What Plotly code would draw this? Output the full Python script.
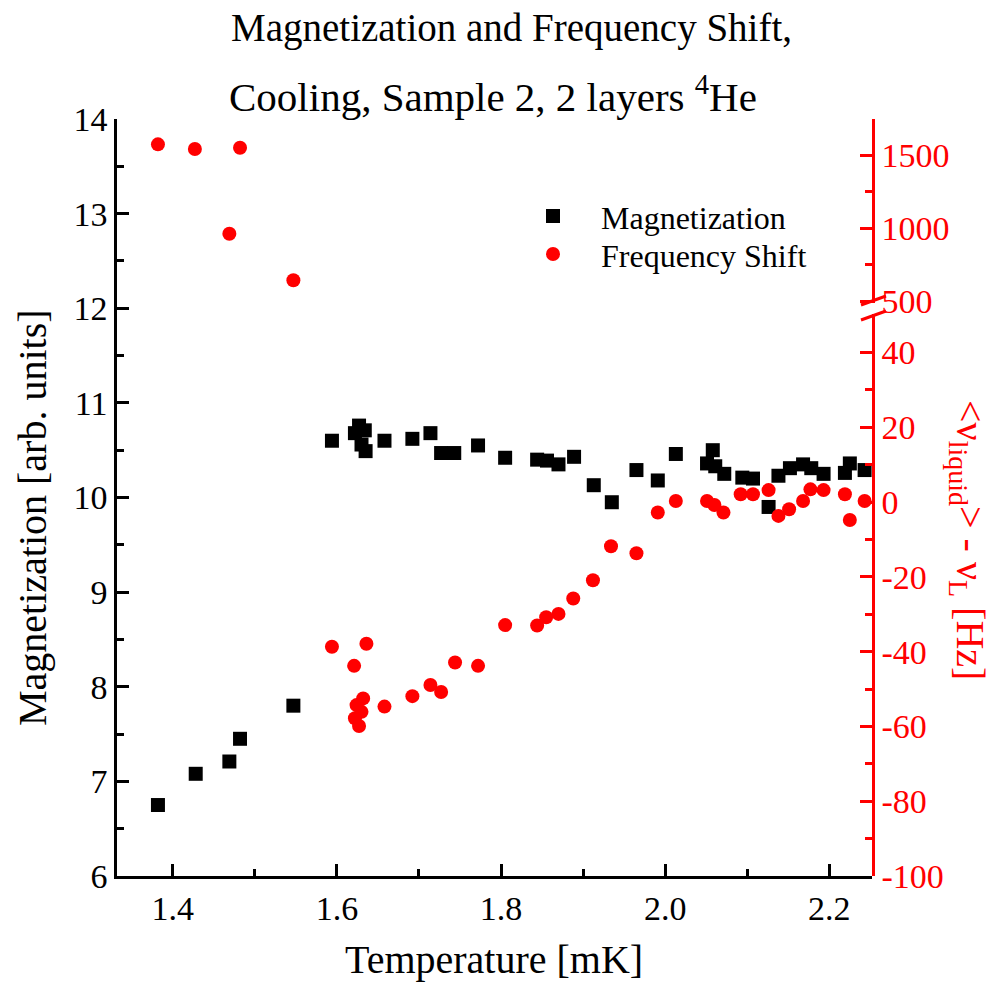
import plotly.graph_objects as go

# Magnetization (left axis)
mag_T = [1.382, 1.428, 1.469, 1.482, 1.547, 1.594, 1.622, 1.627, 1.634, 1.630,
         1.635, 1.658, 1.692, 1.714, 1.727, 1.743, 1.772, 1.805, 1.844, 1.856,
         1.870, 1.889, 1.913, 1.935, 1.965, 1.991, 2.013, 2.051, 2.058, 2.061,
         2.072, 2.094, 2.107, 2.126, 2.138, 2.152, 2.168, 2.178, 2.193, 2.219,
         2.225, 2.243]
mag_M = [6.75, 7.08, 7.21, 7.45, 7.80, 10.60, 10.68, 10.76, 10.71, 10.56,
         10.49, 10.60, 10.62, 10.68, 10.47, 10.47, 10.55, 10.42, 10.40, 10.39,
         10.35, 10.43, 10.13, 9.95, 10.29, 10.18, 10.46, 10.36, 10.50, 10.33,
         10.25, 10.21, 10.20, 9.90, 10.23, 10.31, 10.35, 10.31, 10.25, 10.26,
         10.36, 10.29]

# Frequency shift (right axis, broken scale)
freq_T = [1.382, 1.427, 1.469, 1.482, 1.547, 1.594, 1.621, 1.622, 1.624, 1.627,
          1.630, 1.632, 1.636, 1.658, 1.692, 1.714, 1.727, 1.744, 1.772, 1.805,
          1.844, 1.855, 1.870, 1.888, 1.912, 1.934, 1.965, 1.991, 2.013, 2.051,
          2.060, 2.071, 2.092, 2.107, 2.126, 2.138, 2.151, 2.168, 2.177, 2.193,
          2.219, 2.225, 2.243]
freq_F = [1573, 1541, 961, 1550, 642, -38.7, -43.8, -57.8, -54.3, -59.9,
          -56.1, -52.5, -37.9, -54.7, -51.9, -48.9, -50.8, -42.9, -43.8, -32.9,
          -33.0, -30.8, -29.9, -25.8, -20.9, -11.8, -13.7, -2.8, 0.3, 0.3,
          -0.8, -2.8, 2.1, 2.1, 3.2, -3.7, -1.9, 0.3, 3.4, 3.2,
          2.1, -4.8, 0.3]

x_ticks = [1.4, 1.6, 1.8, 2.0, 2.2]
left_ticks = [6, 7, 8, 9, 10, 11, 12, 13, 14]
low_ticks = [-100, -80, -60, -40, -20, 0, 20, 40]
high_ticks = [500, 1000, 1500]

BREAK = 400  # values above this go on the upper segment of the right axis
low_T = [t for t, f in zip(freq_T, freq_F) if f < BREAK]
low_F = [f for f in freq_F if f < BREAK]
high_T = [t for t, f in zip(freq_T, freq_F) if f >= BREAK]
high_F = [f for f in freq_F if f >= BREAK]

W, H = 999, 984
L, R, T, B = 117, 127, 119, 108
PW, PH = W - L - R, H - T - B
FONT = "Liberation Serif"
RED = "#ff0000"
TICK_SIZE = 34


def px(x):
    return (x - L) / PW


def py(y):
    return (H - B - y) / PH


low_top = py(314)
high_bot = py(303)

fig = go.Figure()
fig.add_trace(go.Scatter(x=mag_T, y=mag_M, mode="markers", name="Magnetization",
                         marker=dict(symbol="square", size=14, color="black"),
                         xaxis="x", yaxis="y"))
fig.add_trace(go.Scatter(x=low_T, y=low_F, mode="markers", name="Frequency Shift",
                         marker=dict(symbol="circle", size=14, color=RED),
                         xaxis="x", yaxis="y2"))
fig.add_trace(go.Scatter(x=high_T, y=high_F, mode="markers", name="Frequency Shift",
                         marker=dict(symbol="circle", size=14, color=RED),
                         xaxis="x", yaxis="y3"))

tick_font = dict(family=FONT, size=TICK_SIZE, color="black")
red_font = dict(family=FONT, size=TICK_SIZE, color=RED)
xr = [1.3321, 2.2520]


def signed(v):
    return f"-{abs(v)}" if v < 0 else f"{v}"


fig.update_layout(
    width=W, height=H, autosize=False,
    margin=dict(l=L, r=R, t=T, b=B),
    paper_bgcolor="white", plot_bgcolor="rgba(0,0,0,0)",
    font=dict(family=FONT, color="black"),
    showlegend=False,
    xaxis=dict(domain=[0, 1], range=xr, tickvals=x_ticks, ticktext=[f"{v:.1f}" for v in x_ticks],
               ticks="inside", ticklen=12, tickwidth=2.5, tickcolor="black",
               showline=True, linewidth=2.5, linecolor="black", showgrid=False, zeroline=False,
               tickfont=tick_font, anchor="y",
               minor=dict(dtick=0.1, tick0=1.4, ticks="inside", ticklen=7, tickwidth=2.5,
                          tickcolor="black", showgrid=False)),
    xaxis2=dict(overlaying="x", side="top", range=xr, anchor="y", tick0=1.4, dtick=0.1,
                ticks="inside", ticklen=7, tickwidth=2, tickcolor="black",
                showline=True, linewidth=2.5, linecolor="black", showgrid=False, zeroline=False,
                showticklabels=False,
                minor=dict(dtick=0.05, tick0=1.4, ticks="inside", ticklen=3, tickwidth=2,
                           tickcolor="black", showgrid=False)),
    yaxis=dict(domain=[0, 1], range=[6, 14], tickvals=left_ticks, anchor="x", side="left",
               ticks="inside", ticklen=12, tickwidth=2.5, tickcolor="black",
               showline=True, linewidth=2.5, linecolor="black", showgrid=False, zeroline=False,
               tickfont=tick_font,
               minor=dict(dtick=0.5, tick0=6, ticks="inside", ticklen=7, tickwidth=2.5,
                          tickcolor="black", showgrid=False)),
    yaxis2=dict(domain=[0, low_top], range=[-100, 50.3], tickvals=low_ticks,
                ticktext=[signed(v) for v in low_ticks], anchor="x",
                side="right", ticks="inside", ticklen=12, tickwidth=2.5, tickcolor=RED,
                showline=True, linewidth=2.5, linecolor=RED, showgrid=False, zeroline=False,
                tickfont=red_font,
                minor=dict(tickvals=[-90, -70, -50, -30, -10, 10, 30], ticks="inside",
                           ticklen=7, tickwidth=2.5, tickcolor=RED, showgrid=False)),
    yaxis3=dict(domain=[high_bot, 1], range=[486.3, 1746.6], tickvals=high_ticks, anchor="x",
                side="right", ticks="inside", ticklen=12, tickwidth=2.5, tickcolor=RED,
                showline=True, linewidth=2.5, linecolor=RED, showgrid=False, zeroline=False,
                tickfont=red_font,
                minor=dict(tickvals=[750, 1250], ticks="inside", ticklen=7, tickwidth=2.5,
                           tickcolor=RED, showgrid=False)),
)

# axis-break marks on the right axis
for y0, y1 in [(305, 296), (320, 311)]:
    fig.add_shape(type="line", xref="paper", yref="paper",
                  x0=px(861), y0=py(y0), x1=px(886), y1=py(y1),
                  line=dict(color=RED, width=3))

# legend: symbols and labels
LEG_X, LEG_Y1, LEG_Y2, S = 553, 216, 254, 7
fig.add_shape(type="rect", xref="paper", yref="paper",
              x0=px(LEG_X - S), x1=px(LEG_X + S), y0=py(LEG_Y1 + S), y1=py(LEG_Y1 - S),
              fillcolor="black", line=dict(width=0))
fig.add_shape(type="circle", xref="paper", yref="paper",
              x0=px(LEG_X - S), x1=px(LEG_X + S), y0=py(LEG_Y2 + S), y1=py(LEG_Y2 - S),
              fillcolor=RED, line=dict(width=0))

ann = [
    dict(text="Magnetization", x=px(599), y=py(LEG_Y1 + 2), xanchor="left", yanchor="middle",
         font=dict(size=32)),
    dict(text="Frequency Shift", x=px(599), y=py(LEG_Y2 + 2), xanchor="left", yanchor="middle",
         font=dict(size=32)),
    dict(text="Magnetization and Frequency Shift,", x=px(229), y=py(28),
         xanchor="left", yanchor="middle", font=dict(size=39)),
    dict(text="Cooling, Sample 2, 2 layers <sup>4</sup>He", x=px(227), y=py(94),
         xanchor="left", yanchor="middle", font=dict(size=41)),
    dict(text="Temperature [mK]", x=px(494), y=py(960), xanchor="center", yanchor="middle",
         font=dict(size=40)),
    dict(text="Magnetization [arb. units]", x=px(32), y=py(518), xanchor="center",
         yanchor="middle", textangle=-90, font=dict(size=40)),
    dict(text="&lt;ν<sub>liquid</sub>&gt; - ν<sub>L</sub> [Hz]", x=px(968), y=py(540),
         xanchor="center", yanchor="middle", textangle=90, font=dict(size=40, color=RED)),
]
for a in ann:
    a.setdefault("font", {})
    a["font"].setdefault("family", FONT)
    a["font"].setdefault("color", "black")
    fig.add_annotation(xref="paper", yref="paper", showarrow=False, **a)

fig.write_html("out.html")
